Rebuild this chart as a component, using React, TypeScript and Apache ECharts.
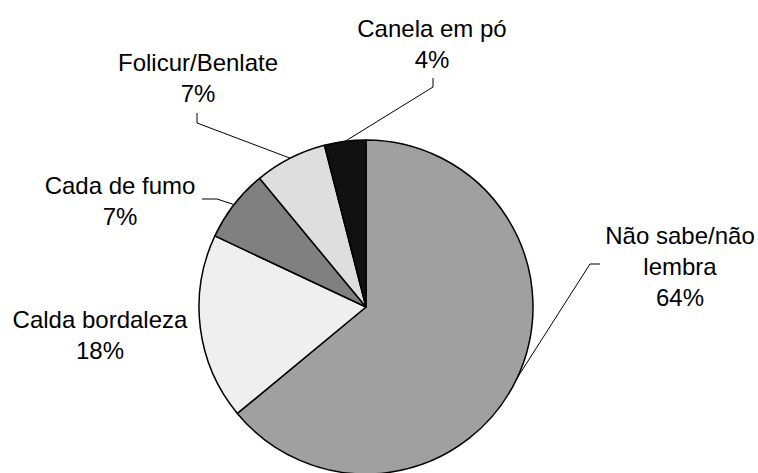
import React, { useEffect, useRef } from "react";
import * as echarts from "echarts";

const categories = ["Não sabe/não\nlembra", "Calda bordaleza", "Cada de fumo", "Folicur/Benlate", "Canela em pó"];
const values = [64, 18, 7, 7, 4];
const sliceColors = ["#a0a0a0", "#efefef", "#808080", "#dedede", "#111111"];

// label placement (style)
const labelPlacement = [
  { x: 680, y: 266, line: [[590, 264], [600, 264]] },
  { x: 100, y: 335, line: null },
  { x: 120, y: 201, line: [[217, 199], [202, 199]] },
  { x: 198, y: 78, line: [[197, 123], [197, 113]] },
  { x: 432, y: 44, line: [[433, 87], [433, 78]] },
];

export default function App() {
  const ref = useRef<HTMLDivElement>(null);
  useEffect(() => {
    document.body.style.margin = "0";
    const chart = echarts.init(ref.current!, null, { renderer: "svg" });
    chart.setOption({
      animation: false,
      backgroundColor: "#ffffff",
      series: [
        {
          type: "pie",
          center: [366, 307],
          radius: 167,
          startAngle: 90,
          clockwise: true,
          avoidLabelOverlap: false,
          itemStyle: { borderColor: "#000000", borderWidth: 1.5 },
          label: {
            show: true,
            position: "outside",
            color: "#000000",
            fontFamily: "'Liberation Sans', Arial, sans-serif",
            fontSize: 24,
            lineHeight: 31,
            align: "center",
            formatter: (p: any) => `${p.name}\n${p.value}%`,
          },
          labelLine: {
            show: true,
            lineStyle: { color: "#000000", width: 1 },
          },
          labelLayout: (params: any) => {
            const pl = labelPlacement[params.dataIndex];
            const res: any = { x: pl.x, y: pl.y, align: "center", verticalAlign: "middle" };
            const pts = params.labelLinePoints;
            if (pl.line && pts) {
              res.labelLinePoints = [pts[0], pl.line[0], pl.line[1]];
            }
            return res;
          },
          data: categories.map((name, i) => ({
            name,
            value: values[i],
            itemStyle: { color: sliceColors[i] },
            labelLine: { show: labelPlacement[i].line !== null },
          })),
        },
      ],
    });
    return () => chart.dispose();
  }, []);
  return <div ref={ref} style={{ width: 758, height: 473 }} />;
}
